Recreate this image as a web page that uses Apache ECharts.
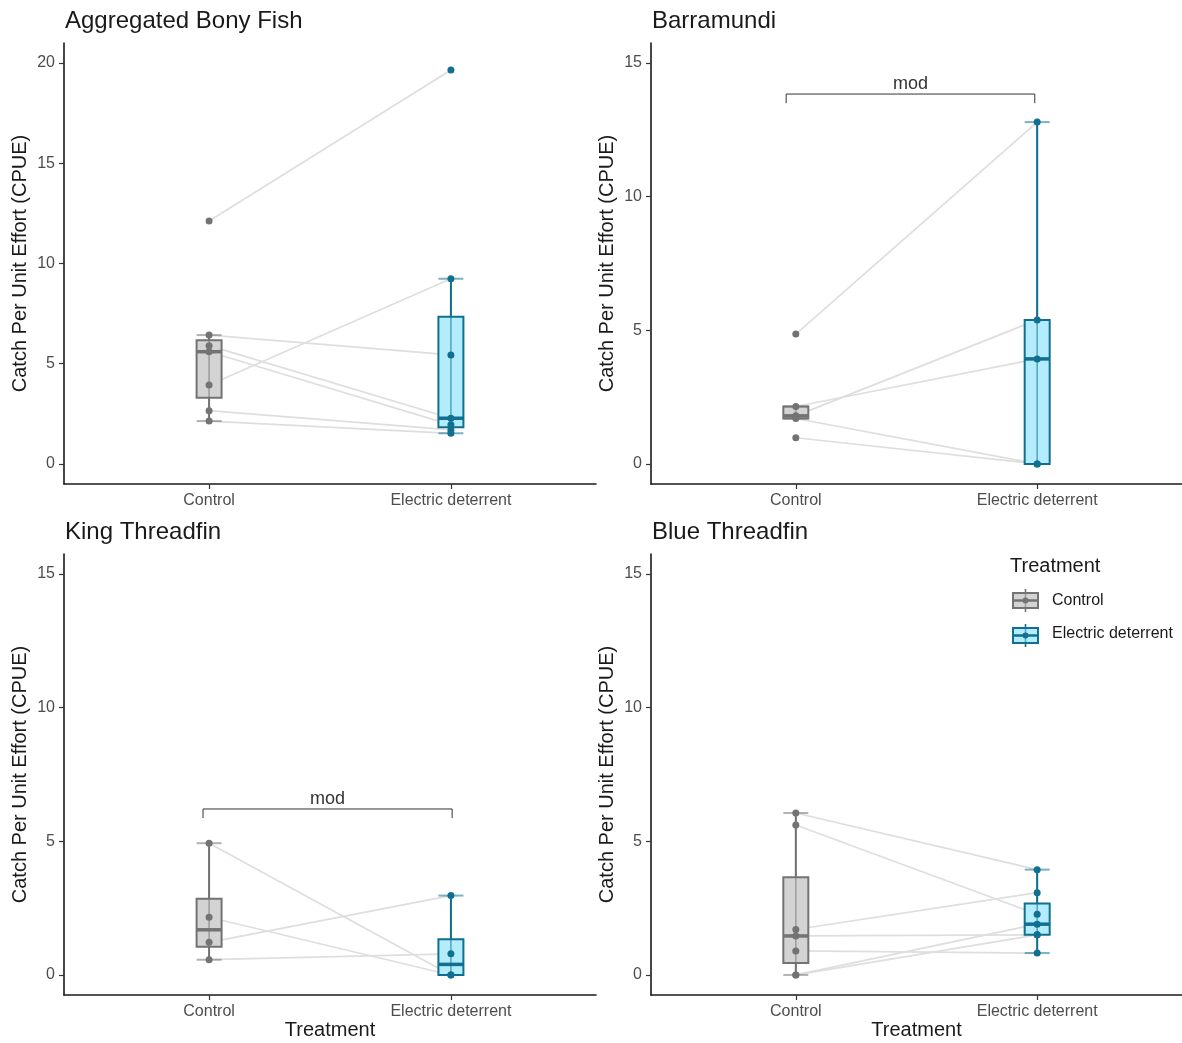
<!DOCTYPE html>
<html>
<head>
<meta charset="utf-8">
<script src="https://cdn.jsdelivr.net/npm/echarts@6/dist/echarts.min.js"></script>
<style>
html,body{margin:0;padding:0;background:#fff;}
#chart{width:1182px;height:1043px;}
</style>
</head>
<body>
<div id="chart"></div>
<script>
// ---------------- data ----------------
const categories = ['Control', 'Electric deterrent'];
const panelTitles = ['Aggregated Bony Fish', 'Barramundi', 'King Threadfin', 'Blue Threadfin'];

// paired observations (index i in control pairs with index i in electric)
const bonyControl   = [12.12, 6.43, 5.90, 5.60, 3.94, 2.66, 2.14];
const bonyElectric  = [19.65, 5.44, 2.28, 1.95, 9.24, 1.70, 1.53];
const barraControl  = [4.86, 2.15, 1.80, 1.70, 0.98];
const barraElectric = [12.79, 3.93, 5.39, 0, 0];
const kingControl   = [4.93, 2.16, 1.22, 0.57];
const kingElectric  = [0, 0, 2.97, 0.79];
const blueControl   = [6.06, 5.61, 1.70, 1.46, 0.90, 0, 0];
const blueElectric  = [3.94, 2.27, 3.08, 1.50, 0.82, 1.90, 1.50];

const yTicksBony = [0, 5, 10, 15, 20];
const yTicksOther = [0, 5, 10, 15];
const yRangeBony = [-1, 21];
const yRangeOther = [-0.75, 15.75];

// significance brackets: [xStart, xEnd, yLine, yTip]
const barraBracket = [-0.04, 0.99, 13.84, 13.5];
const kingBracket  = [-0.025, 1.005, 6.21, 5.87];
const bracketLabel = 'mod';

const yAxisTitle = 'Catch Per Unit Effort (CPUE)';
const xAxisTitle = 'Treatment';
const legendTitle = 'Treatment';

// ---------------- helpers ----------------
function quantile(sorted, p) {
  const pos = (sorted.length - 1) * p;
  const lo = Math.floor(pos), hi = Math.ceil(pos);
  return sorted[lo] + (sorted[hi] - sorted[lo]) * (pos - lo);
}
function boxStats(vals, x) {
  const s = vals.slice().sort((a, b) => a - b);
  const q1 = quantile(s, 0.25), med = quantile(s, 0.5), q3 = quantile(s, 0.75);
  const iqr = q3 - q1;
  const lf = q1 - 1.5 * iqr, uf = q3 + 1.5 * iqr;
  const inside = s.filter(v => v >= lf && v <= uf);
  return [x, inside[0], q1, med, q3, inside[inside.length - 1]];
}

const FONT = "'Liberation Sans', Arial, Helvetica, sans-serif";
const groupStyle = [
  { stroke: '#737373', fill: '#d3d3d3', faint: 'rgba(115,115,115,0.55)', point: '#737373' },
  { stroke: '#11708f', fill: '#b3ecfd', faint: 'rgba(17,112,143,0.55)', point: '#11708f' }
];
const BOX_HALF = 12.5;

const panels = [
  { ctrl: bonyControl,  elec: bonyElectric,  ticks: yTicksBony,  range: yRangeBony,  bracket: null,
    grid: { left: 64, top: 43, width: 532, height: 441 }, xName: '' },
  { ctrl: barraControl, elec: barraElectric, ticks: yTicksOther, range: yRangeOther, bracket: barraBracket,
    grid: { left: 651, top: 43, width: 531, height: 441 }, xName: '' },
  { ctrl: kingControl,  elec: kingElectric,  ticks: yTicksOther, range: yRangeOther, bracket: kingBracket,
    grid: { left: 64, top: 554, width: 532, height: 441 }, xName: xAxisTitle },
  { ctrl: blueControl,  elec: blueElectric,  ticks: yTicksOther, range: yRangeOther, bracket: null,
    grid: { left: 651, top: 554, width: 531, height: 441 }, xName: xAxisTitle }
];

const grids = [], xAxes = [], yAxes = [], series = [], titles = [];

panels.forEach((p, i) => {
  grids.push(Object.assign({ containLabel: false }, p.grid));
  titles.push({
    text: panelTitles[i],
    left: p.grid.left + 1,
    top: p.grid.top - 34,
    padding: 0,
    textStyle: { fontFamily: FONT, fontSize: 24, fontWeight: 'normal', color: '#1a1a1a' }
  });
  xAxes.push({
    gridIndex: i, type: 'value', min: -0.6, max: 1.6,
    name: p.xName, nameLocation: 'middle', nameGap: 25,
    nameTextStyle: { fontFamily: FONT, fontSize: 20, color: '#1a1a1a' },
    axisLine: { show: true, onZero: false, lineStyle: { color: '#1a1a1a', width: 1.6 } },
    axisTick: { show: true, customValues: [0, 1], length: 5, lineStyle: { color: '#333', width: 1.2 } },
    axisLabel: { show: true, customValues: [0, 1], margin: 9, fontFamily: FONT, fontSize: 16, color: '#4d4d4d',
      formatter: v => categories[Math.round(v)] },
    splitLine: { show: false }
  });
  yAxes.push({
    gridIndex: i, type: 'value', min: p.range[0], max: p.range[1],
    name: yAxisTitle, nameLocation: 'middle', nameGap: 34, nameRotate: 90,
    nameTextStyle: { fontFamily: FONT, fontSize: 20, color: '#1a1a1a' },
    axisLine: { show: true, onZero: false, lineStyle: { color: '#1a1a1a', width: 1.6 } },
    axisTick: { show: true, customValues: p.ticks, length: 5, lineStyle: { color: '#333', width: 1.2 } },
    axisLabel: { show: true, customValues: p.ticks, margin: 9, fontFamily: FONT, fontSize: 16, color: '#4d4d4d' },
    splitLine: { show: false }
  });

  // connecting lines between paired observations
  series.push({
    type: 'custom', xAxisIndex: i, yAxisIndex: i, z: 1, silent: true,
    data: p.ctrl.map((c, k) => [c, p.elec[k]]),
    renderItem: function (params, api) {
      const a = api.coord([0, api.value(0)]);
      const b = api.coord([1, api.value(1)]);
      return { type: 'line', shape: { x1: a[0], y1: a[1], x2: b[0], y2: b[1] },
        style: { stroke: '#dedede', lineWidth: 1.7 } };
    }
  });

  // boxplots with errorbar caps
  series.push({
    type: 'custom', xAxisIndex: i, yAxisIndex: i, z: 2, silent: true,
    data: [boxStats(p.ctrl, 0), boxStats(p.elec, 1)],
    renderItem: function (params, api) {
      const x = api.value(0);
      const st = groupStyle[x];
      const lo = api.coord([x, api.value(1)]);
      const q1 = api.coord([x, api.value(2)]);
      const md = api.coord([x, api.value(3)]);
      const q3 = api.coord([x, api.value(4)]);
      const hi = api.coord([x, api.value(5)]);
      const cx = lo[0];
      return { type: 'group', children: [
        { type: 'line', shape: { x1: cx, y1: q3[1], x2: cx, y2: hi[1] }, style: { stroke: st.stroke, lineWidth: 2 } },
        { type: 'line', shape: { x1: cx, y1: q1[1], x2: cx, y2: lo[1] }, style: { stroke: st.stroke, lineWidth: 2 } },
        { type: 'rect', shape: { x: cx - BOX_HALF, y: q3[1], width: 2 * BOX_HALF, height: q1[1] - q3[1] },
          style: { fill: st.fill, stroke: st.stroke, lineWidth: 2 } },
        { type: 'line', shape: { x1: cx - BOX_HALF, y1: md[1], x2: cx + BOX_HALF, y2: md[1] }, style: { stroke: st.stroke, lineWidth: 3.5 } },
        { type: 'line', shape: { x1: cx, y1: lo[1], x2: cx, y2: hi[1] }, style: { stroke: st.faint, lineWidth: 1.6 } },
        { type: 'line', shape: { x1: cx - BOX_HALF, y1: lo[1], x2: cx + BOX_HALF, y2: lo[1] }, style: { stroke: st.faint, lineWidth: 2 } },
        { type: 'line', shape: { x1: cx - BOX_HALF, y1: hi[1], x2: cx + BOX_HALF, y2: hi[1] }, style: { stroke: st.faint, lineWidth: 2 } }
      ] };
    }
  });

  // points
  series.push({
    type: 'scatter', name: categories[0], xAxisIndex: i, yAxisIndex: i, z: 3, silent: true,
    symbolSize: 7, itemStyle: { color: groupStyle[0].point, opacity: 1 },
    data: p.ctrl.map(v => [0, v])
  });
  series.push({
    type: 'scatter', name: categories[1], xAxisIndex: i, yAxisIndex: i, z: 3, silent: true,
    symbolSize: 7, itemStyle: { color: groupStyle[1].point, opacity: 1 },
    data: p.elec.map(v => [1, v])
  });

  // significance bracket
  if (p.bracket) {
    series.push({
      type: 'custom', xAxisIndex: i, yAxisIndex: i, z: 4, silent: true,
      data: [p.bracket],
      renderItem: function (params, api) {
        const a0 = api.coord([api.value(0), api.value(3)]);
        const a1 = api.coord([api.value(0), api.value(2)]);
        const b1 = api.coord([api.value(1), api.value(2)]);
        const b0 = api.coord([api.value(1), api.value(3)]);
        return { type: 'group', children: [
          { type: 'polyline', shape: { points: [a0, a1, b1, b0] }, style: { stroke: '#333', lineWidth: 1, fill: null } },
          { type: 'text', style: { text: bracketLabel, x: (a1[0] + b1[0]) / 2, y: a1[1] - 1,
              align: 'center', verticalAlign: 'bottom', fontFamily: FONT, fontSize: 18, fill: '#333' } }
        ] };
      }
    });
  }
});

// legend drawn as graphic elements
function legendKey(top, st) {
  const l = 1013, w = 25, h = 15, cx = l + w / 2;
  return [
    { type: 'line', shape: { x1: cx, y1: top - 4, x2: cx, y2: top + h + 4 }, style: { stroke: st.stroke, lineWidth: 1.6 } },
    { type: 'rect', shape: { x: l, y: top, width: w, height: h }, style: { fill: st.fill, stroke: st.stroke, lineWidth: 2 } },
    { type: 'line', shape: { x1: cx, y1: top, x2: cx, y2: top + h }, style: { stroke: st.faint, lineWidth: 1.6 } },
    { type: 'line', shape: { x1: l, y1: top + h / 2, x2: l + w, y2: top + h / 2 }, style: { stroke: st.stroke, lineWidth: 2.5 } },
    { type: 'circle', shape: { cx: cx, cy: top + h / 2, r: 3 }, style: { fill: st.point } }
  ];
}
const graphic = [
  { type: 'text', left: 1010, top: 556, style: { text: legendTitle, fontFamily: FONT, fontSize: 20, fill: '#1a1a1a' } },
  { type: 'text', left: 1052, top: 593, style: { text: categories[0], fontFamily: FONT, fontSize: 16, fill: '#1a1a1a' } },
  { type: 'text', left: 1052, top: 626, style: { text: categories[1], fontFamily: FONT, fontSize: 16, fill: '#1a1a1a' } }
].concat(legendKey(593, groupStyle[0]), legendKey(628, groupStyle[1]));

const chart = echarts.init(document.getElementById('chart'), null, { renderer: 'canvas' });
chart.setOption({
  backgroundColor: '#ffffff',
  animation: false,
  title: titles,
  grid: grids,
  xAxis: xAxes,
  yAxis: yAxes,
  series: series,
  graphic: graphic
});
</script>
</body>
</html>
